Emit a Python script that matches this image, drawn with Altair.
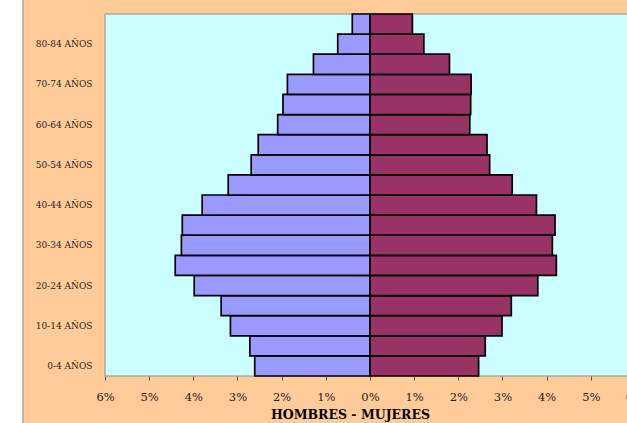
import altair as alt
import pandas as pd

groups = ["0-4 AÑOS", "5-9 AÑOS", "10-14 AÑOS", "15-19 AÑOS", "20-24 AÑOS", "25-29 AÑOS",
          "30-34 AÑOS", "35-39 AÑOS", "40-44 AÑOS", "45-49 AÑOS", "50-54 AÑOS", "55-59 AÑOS",
          "60-64 AÑOS", "65-69 AÑOS", "70-74 AÑOS", "75-79 AÑOS", "80-84 AÑOS", "85+ AÑOS"]
hombres = [2.61, 2.72, 3.16, 3.37, 3.98, 4.41, 4.27, 4.25, 3.80, 3.21, 2.69, 2.53,
           2.09, 1.97, 1.87, 1.28, 0.73, 0.40]
mujeres = [2.46, 2.61, 2.99, 3.20, 3.80, 4.22, 4.13, 4.19, 3.77, 3.22, 2.71, 2.65,
           2.26, 2.28, 2.29, 1.80, 1.22, 0.96]
shown_labels = groups[0:17:2]
x_ticks = [-6, -5, -4, -3, -2, -1, 0, 1, 2, 3, 4, 5, 6]

rows = []
for g, h, m in zip(groups, hombres, mujeres):
    rows.append({"grupo": g, "sexo": "Hombres", "valor": -h})
    rows.append({"grupo": g, "sexo": "Mujeres", "valor": m})
df = pd.DataFrame(rows)

W, H = 522, 362
FONT = "DejaVu Serif"

order = list(reversed(groups))
xscale = alt.Scale(domain=[-6, 5.82], nice=False, zero=False)

bg = alt.Chart(pd.DataFrame({"a": [0]})).mark_rect(
    fill="#FFCC99", stroke="#8C8C8C", strokeWidth=1
).encode(x=alt.value(-82), x2=alt.value(W + 20), y=alt.value(-30), y2=alt.value(H + 80))

plot_bg = alt.Chart(pd.DataFrame({"a": [0]})).mark_rect(
    fill="#CCFFFF", stroke="#8C8C8C", strokeWidth=1
).encode(x=alt.value(0), x2=alt.value(W + 20), y=alt.value(0), y2=alt.value(H))

bars = alt.Chart(df).mark_bar(stroke="black", strokeWidth=1.7).encode(
    y=alt.Y("grupo:N", sort=order,
            scale=alt.Scale(paddingInner=0, paddingOuter=0),
            axis=alt.Axis(values=shown_labels, title=None, ticks=False, domain=False,
                          labelFont=FONT, labelFontSize=9, labelColor="#222222",
                          labelPadding=13, zindex=2)),
    x=alt.X("valor:Q", scale=xscale,
            axis=alt.Axis(values=x_ticks, labelExpr="abs(datum.value) + '%'",
                          title="HOMBRES - MUJERES", titleFont=FONT, titleFontSize=12.5,
                          titleFontWeight="bold", titleColor="black",
                          titleX=245, titleY=42, titleBaseline="alphabetic",
                          titleAlign="center",
                          labelFont=FONT, labelFontSize=11.5, labelColor="#222222",
                          labelPadding=11, tickSize=4, tickColor="#555555",
                          domain=False, grid=False, zindex=2, labelOverlap=False,
                          labelBound=False, labelFlush=False)),
    x2=alt.X2(datum=0),
    color=alt.Color("sexo:N", scale=alt.Scale(domain=["Hombres", "Mujeres"],
                                             range=["#9999FF", "#993366"]), legend=None),
)

edge_label = alt.Chart(pd.DataFrame({"v": [6]})).mark_text(
    font=FONT, fontSize=11.5, color="#222222", baseline="middle", align="center"
).encode(x=alt.X("v:Q", scale=xscale), y=alt.value(H + 22), text=alt.value("6%"))

chart = alt.layer(bg, plot_bg, bars, edge_label).properties(
    width=W, height=H,
    autosize=alt.AutoSizeParams(type="none"),
    padding={"left": 105, "top": 14, "right": 0, "bottom": 47},
    background="white",
).configure_view(stroke=None, fill=None)

chart.save("out.html", embed_options={"renderer": "svg", "actions": False})
